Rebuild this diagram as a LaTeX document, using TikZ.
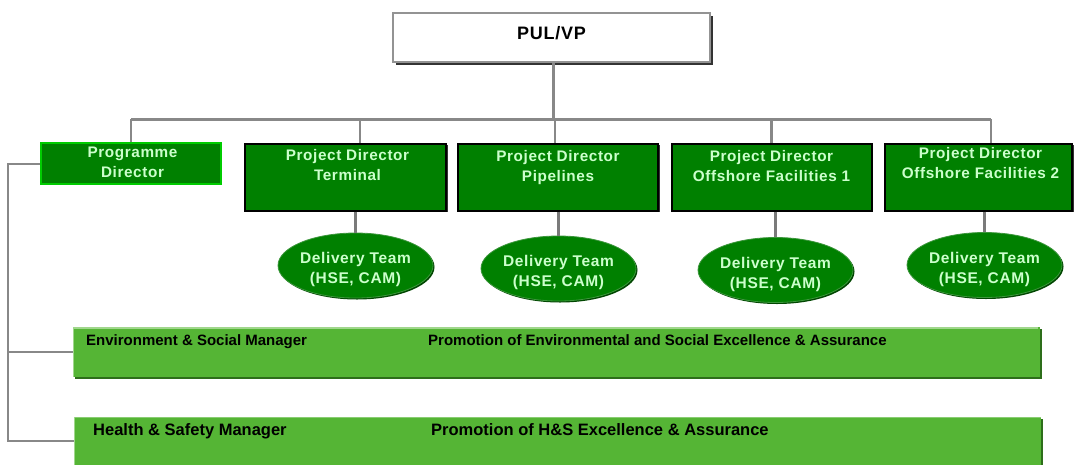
\documentclass[tikz,border=0pt]{standalone}
\usepackage{fontspec}
\setmainfont{Liberation Sans}
\newfontfamily\spacedfont[LetterSpace=4]{Liberation Sans}
\usetikzlibrary{shapes.geometric,shadows}
\definecolor{boxgreen}{RGB}{0,128,0}
\definecolor{palegreen}{RGB}{204,255,204}
\definecolor{brightgreen}{RGB}{0,204,0}
\definecolor{barfill}{RGB}{85,181,53}
\definecolor{barlight}{RGB}{160,215,140}
\definecolor{bardark}{RGB}{45,110,26}
\definecolor{linkgray}{RGB}{136,136,136}
\definecolor{ellipseedge}{RGB}{60,150,60}
\definecolor{ellipseshade}{RGB}{0,70,0}

\begin{document}
\begin{tikzpicture}[x=1pt,y=-1pt,
  link/.style={draw=linkgray, line width=3pt},
  droplink/.style={draw=linkgray, line width=2.5pt},
  teamlink/.style={draw=linkgray!90!black, line width=3.5pt},
  spinelink/.style={draw=linkgray, line width=2pt},
  topbox/.style={rectangle, draw=gray!85, line width=1.8pt, fill=white,
    minimum width=317, minimum height=49, inner sep=0,
    drop shadow={shadow xshift=2.5pt, shadow yshift=-2.5pt, fill=black!80, opacity=1}},
  pdbox/.style={rectangle, draw=black, line width=2pt, fill=boxgreen,
    minimum height=67, inner sep=0,
    drop shadow={shadow xshift=1.5pt, shadow yshift=-1.5pt, fill=black!80, opacity=1}},
  progbox/.style={rectangle, draw=brightgreen, line width=2pt, fill=boxgreen,
    minimum width=180, minimum height=41, inner sep=0},
  boxtext/.style={text=palegreen, font=\spacedfont\bfseries\fontsize{15.3}{20}\selectfont,
    align=center, inner sep=0, anchor=north},
  toptext/.style={font=\spacedfont\bfseries\fontsize{18}{22}\selectfont, inner sep=0, anchor=north},
  team/.style={ellipse, fill=boxgreen, draw=ellipseedge, line width=0.8pt,
    minimum width=155, minimum height=65, inner sep=0,
    drop shadow={shadow xshift=1.5pt, shadow yshift=-1.5pt, fill=ellipseshade, opacity=1}},
  teamtext/.style={text=palegreen, font=\spacedfont\bfseries\fontsize{15.5}{20}\selectfont,
    align=center, inner sep=0, anchor=north},
  bar/.style={rectangle, fill=barfill, inner sep=0, anchor=north west, minimum width=967,
    drop shadow={shadow xshift=1.5pt, shadow yshift=-2pt, fill=bardark, opacity=1}},
  envtext/.style={font=\bfseries\fontsize{15}{18}\selectfont, inner sep=0, anchor=base west},
  hstext/.style={font=\bfseries\fontsize{16.5}{20}\selectfont, inner sep=0, anchor=base west},
]
\useasboundingbox (0,0) rectangle (1076,464);

% top of the hierarchy
\node[topbox] (pul) at (551.5,37.5) {};
\node[toptext] (pultext) at ([yshift=-14pt]pul.north) {PUL/VP};

% directors
\node[progbox] (prog) at (131,163.5) {};
\node[pdbox, minimum width=201] (term) at (345.5,177) {};
\node[pdbox, minimum width=200] (pipe) at (558,177) {};
\node[pdbox, minimum width=200] (off1) at (771.5,177) {};
\node[pdbox, minimum width=187] (off2) at (978.5,177) {};

\node[boxtext] (progtext) at ([xshift=1.5pt,yshift=-5pt]prog.north) {Programme\\Director};
\node[boxtext] (termtext) at ([xshift=2pt,yshift=-7pt]term.north) {Project Director\\Terminal};
\node[boxtext] (pipetext) at ([yshift=-8pt]pipe.north) {Project Director\\Pipelines};
\node[boxtext] (off1text) at ([yshift=-8pt]off1.north) {Project Director\\Offshore Facilities 1};
\node[boxtext] (off2text) at ([xshift=2pt,yshift=-5pt]off2.north) {Project Director\\Offshore Facilities 2};

% delivery teams
\node[team] (termteam) at (355.5,265.5) {};
\node[team] (pipeteam) at (558.5,268.5) {};
\node[team] (off1team) at (775.5,270) {};
\node[team] (off2team) at (984.5,265) {};
\foreach \t in {termteam,pipeteam,off1team,off2team}
  \node[teamtext] (\t text) at ([yshift=13pt]\t.center) {Delivery Team\\(HSE, CAM)};

% assurance bars
\node[bar, minimum height=50] (env) at (73,327) {};
\draw[barlight, line width=1.5pt] ([yshift=-0.75pt]env.north west) -- ([yshift=-0.75pt,xshift=-2pt]env.north east);
\draw[barlight, line width=1pt] ([xshift=0.5pt]env.north west) -- ([xshift=0.5pt]env.south west);
\node[bar, minimum height=48] (hs) at (74,417) {};
\draw[barlight!70!barfill, line width=1pt] ([yshift=-0.5pt]hs.north west) -- ([yshift=-0.5pt]hs.north east);
\draw[barlight, line width=1pt] ([xshift=0.5pt]hs.north west) -- ([xshift=0.5pt]hs.south west);

\node[envtext] (envname) at ([shift={(13pt,-18pt)}]env.north west) {Environment \& Social Manager};
\node[envtext] (envrole) at ([shift={(355pt,-18pt)}]env.north west) {Promotion of Environmental and Social Excellence \& Assurance};
\node[hstext] (hsname) at ([shift={(19pt,-18pt)}]hs.north west) {Health \& Safety Manager};
\node[hstext] (hsrole) at ([shift={(357pt,-18pt)}]hs.north west) {Promotion of H\&S Excellence \& Assurance};

% reporting lines
\coordinate (bus) at (553,119);
\draw[link] ([xshift=1.5pt]pul.south) -- ([xshift=1.5pt]pul.south |- bus);
\draw[link] (prog.north |- bus) -- ([xshift=12.5pt]off2.north |- bus);
\draw[droplink] (prog.north |- bus) -- (prog.north);
\draw[droplink] ([xshift=14.5pt]term.north |- bus) -- ([xshift=14.5pt]term.north);
\draw[droplink] ([xshift=-3pt]pipe.north |- bus) -- ([xshift=-3pt]pipe.north);
\draw[droplink] (off1.north |- bus) -- (off1.north);
\draw[droplink] ([xshift=12.5pt]off2.north |- bus) -- ([xshift=12.5pt]off2.north);

\draw[teamlink] (term.south -| termteam.north) -- (termteam.north);
\draw[teamlink] (pipe.south -| pipeteam.north) -- (pipeteam.north);
\draw[teamlink] (off1.south -| off1team.north) -- (off1team.north);
\draw[teamlink] (off2.south -| off2team.north) -- (off2team.north);

% programme director to the assurance managers
\coordinate (spine) at (8,163.5);
\draw[spinelink] (prog.west) -- (spine) |- (hs.west);
\draw[spinelink] (spine |- env.west) -- (env.west);
\end{tikzpicture}
\end{document}
